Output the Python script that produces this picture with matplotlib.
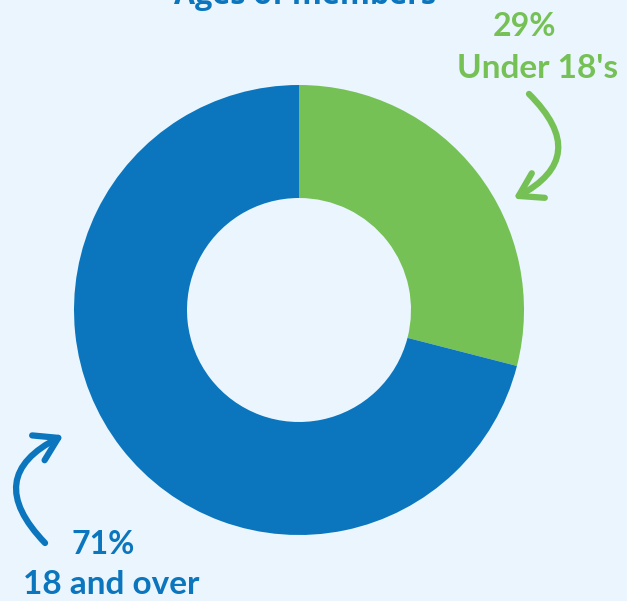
import matplotlib.pyplot as plt
from matplotlib.patches import FancyArrowPatch

labels = ["Under 18's", "18 and over"]
shares = [29, 71]
colors = ["#75C155", "#0B76BD"]
bg = "#EAF5FD"

fig = plt.figure(figsize=(6.27, 6.01), dpi=100, facecolor=bg)
ax = fig.add_axes([0, 0, 1, 1])
ax.set_facecolor(bg)

# donut, green slice starts at 12 o'clock, clockwise
ax.pie(shares, colors=colors, startangle=90, counterclock=False,
       center=(299, 291), radius=225,
       wedgeprops=dict(width=113, linewidth=0), frame=True)
ax.set_xlim(0, 627)
ax.set_ylim(0, 601)
ax.set_aspect("equal")
ax.axis("off")

# title, mostly cropped off the top
ax.text(305, 590, "Ages of members", ha="center", va="bottom",
        fontsize=22, fontweight="bold", color="#0B76BD", family="Open Sans")

# labels
ax.text(525, 575, f"{shares[0]}%", ha="center", va="center",
        fontsize=23, fontweight="bold", color=colors[0], family="Lato")
ax.text(538, 532, labels[0], ha="center", va="center",
        fontsize=24, fontweight="bold", color=colors[0], family="Lato")
ax.text(103, 57, f"{shares[1]}%", ha="center", va="center",
        fontsize=23, fontweight="bold", color=colors[1], family="Lato")
ax.text(111, 16, labels[1], ha="center", va="center",
        fontsize=24, fontweight="bold", color=colors[1], family="Lato")

# hand-drawn style arrows
ax.add_patch(FancyArrowPatch((527, 509), (511, 401),
                             connectionstyle="arc3,rad=-0.7",
                             arrowstyle="->,head_length=8,head_width=5",
                             color=colors[0], lw=4.5, mutation_scale=2,
                             capstyle="round", joinstyle="round"))
ax.add_patch(FancyArrowPatch((47, 56), (66, 167),
                             connectionstyle="arc3,rad=-0.7",
                             arrowstyle="->,head_length=8,head_width=5",
                             color=colors[1], lw=4.5, mutation_scale=2,
                             capstyle="round", joinstyle="round"))

fig.savefig("out.png", dpi=100, facecolor=bg)
